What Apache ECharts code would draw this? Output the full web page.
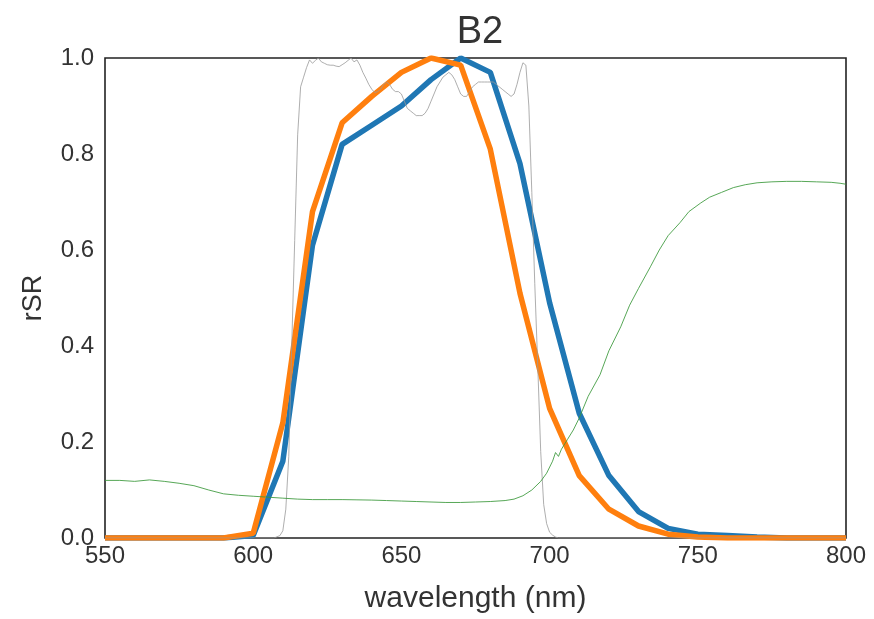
<!DOCTYPE html>
<html><head><meta charset="utf-8">
<script src="https://cdn.jsdelivr.net/npm/echarts@6/dist/echarts.min.js"></script>
<style>html,body{margin:0;padding:0;background:#fff}#c{width:874px;height:619px}</style>
</head><body><div id="c"></div>
<script>
var titleText = "B2";
var xName = "wavelength (nm)";
var yName = "rSR";
var xTicks = [550, 600, 650, 700, 750, 800];
var yTicks = ["0.0", "0.2", "0.4", "0.6", "0.8", "1.0"];

var bandWl = [550,560,570,580,590,600,610,620,630,640,650,660,670,680,690,700,710,720,730,740,750,760,770,780,790,800];
var blueVals = [0,0,0,0,0,0.005,0.16,0.61,0.82,0.86,0.90,0.955,1.0,0.97,0.78,0.49,0.26,0.13,0.055,0.02,0.008,0.005,0.002,0,0,0];
var orangeVals = [0,0,0,0,0,0.01,0.24,0.68,0.865,0.92,0.97,1.0,0.985,0.81,0.51,0.27,0.13,0.06,0.025,0.008,0.002,0,0,0,0,0];

var grayWl = [550,607,609,610,611,612,613,614,615,616,617,618,619,620,621,622,623,624,625,626,627,628,629,630,631,632,633,634,635,636,637,638,639,640,641,642,643,644,645,646,647,648,649,650,651,652,653,654,655,656,657,658,659,660,661,662,663,664,665,666,667,668,669,670,671,672,673,674,675,676,677,678,679,680,681,682,683,684,685,686,687,688,689,690,691,692,693,694,695,696,697,698,699,700,701,702,703,800];
var grayVals = [0,0,0.005,0.015,0.06,0.17,0.4,0.62,0.84,0.94,0.96,0.98,0.996,0.989,0.995,1.0,0.992,0.989,0.986,0.985,0.985,0.983,0.982,0.986,0.99,0.995,1.0,0.992,0.996,0.985,0.97,0.958,0.945,0.935,0.928,0.93,0.935,0.945,0.95,0.945,0.935,0.93,0.93,0.925,0.91,0.895,0.89,0.885,0.88,0.88,0.88,0.885,0.895,0.91,0.925,0.94,0.95,0.96,0.965,0.97,0.965,0.955,0.94,0.925,0.92,0.92,0.93,0.94,0.945,0.95,0.95,0.95,0.95,0.95,0.95,0.945,0.94,0.935,0.93,0.925,0.92,0.925,0.945,0.97,0.99,0.985,0.9,0.72,0.53,0.36,0.18,0.07,0.03,0.012,0.006,0.002,0,0];

var greenWl = [550,555,560,565,570,575,580,585,590,595,600,605,610,615,620,625,630,635,640,645,650,655,660,665,670,675,680,685,688,691,694,697,699,701,702,703,704,706,708,710,713,717,720,724,727,730,734,737,740,744,747,751,754,758,762,766,770,775,780,785,790,795,798,800];
var greenVals = [0.12,0.12,0.118,0.121,0.118,0.114,0.109,0.1,0.092,0.089,0.087,0.085,0.083,0.081,0.08,0.08,0.08,0.0795,0.079,0.078,0.077,0.076,0.075,0.074,0.074,0.075,0.076,0.078,0.081,0.088,0.1,0.118,0.135,0.16,0.178,0.17,0.185,0.205,0.225,0.25,0.295,0.34,0.39,0.44,0.485,0.52,0.565,0.6,0.63,0.657,0.68,0.698,0.71,0.72,0.73,0.736,0.74,0.742,0.743,0.743,0.742,0.741,0.739,0.737];

function pairs(xs, ys){ return xs.map(function(x,i){ return [x, ys[i]]; }); }

var font = "Liberation Sans";
var chart = echarts.init(document.getElementById('c'), null, {renderer:'canvas'});
chart.setOption({
  animation:false,
  backgroundColor:'#fff',
  title:{text:titleText, left:475, textAlign:'center', top:9, textStyle:{fontFamily:font, fontSize:38, fontWeight:'normal', color:'#333'}},
  grid:{left:105, right:28, top:58, bottom:79, show:true, borderColor:'#222', borderWidth:1.6, backgroundColor:'transparent'},
  xAxis:{type:'value', min:550, max:800, interval:50, name:xName, nameLocation:'middle', nameGap:46,
    nameTextStyle:{fontFamily:font, fontSize:30, color:'#333'},
    axisLine:{show:false}, axisTick:{show:false}, splitLine:{show:false},
    axisLabel:{fontFamily:font, fontSize:24, color:'#333', margin:6,
      formatter:function(v){ return xTicks.indexOf(v) >= 0 ? String(v) : ''; }}},
  yAxis:{type:'value', min:0, max:1, interval:0.2, name:yName, nameLocation:'middle', nameGap:58,
    nameTextStyle:{fontFamily:font, fontSize:27, color:'#333'},
    axisLine:{show:false}, axisTick:{show:false}, splitLine:{show:false},
    axisLabel:{fontFamily:font, fontSize:24, color:'#333', margin:11,
      formatter:function(v){ return yTicks[Math.round(v/0.2)]; }}},
  series:[
    {type:'line', data:pairs(bandWl, blueVals), showSymbol:false, lineStyle:{color:'#1f77b4', width:5.5}, z:3},
    {type:'line', data:pairs(bandWl, orangeVals), showSymbol:false, lineStyle:{color:'#ff7f0e', width:5.5}, z:4},
    {type:'line', data:pairs(grayWl, grayVals), showSymbol:false, lineStyle:{color:'#9a9a9a', width:1, opacity:0.8}, z:5},
    {type:'line', data:pairs(greenWl, greenVals), showSymbol:false, lineStyle:{color:'#3a983a', width:1, opacity:0.85}, z:6}
  ]
});
</script></body></html>
